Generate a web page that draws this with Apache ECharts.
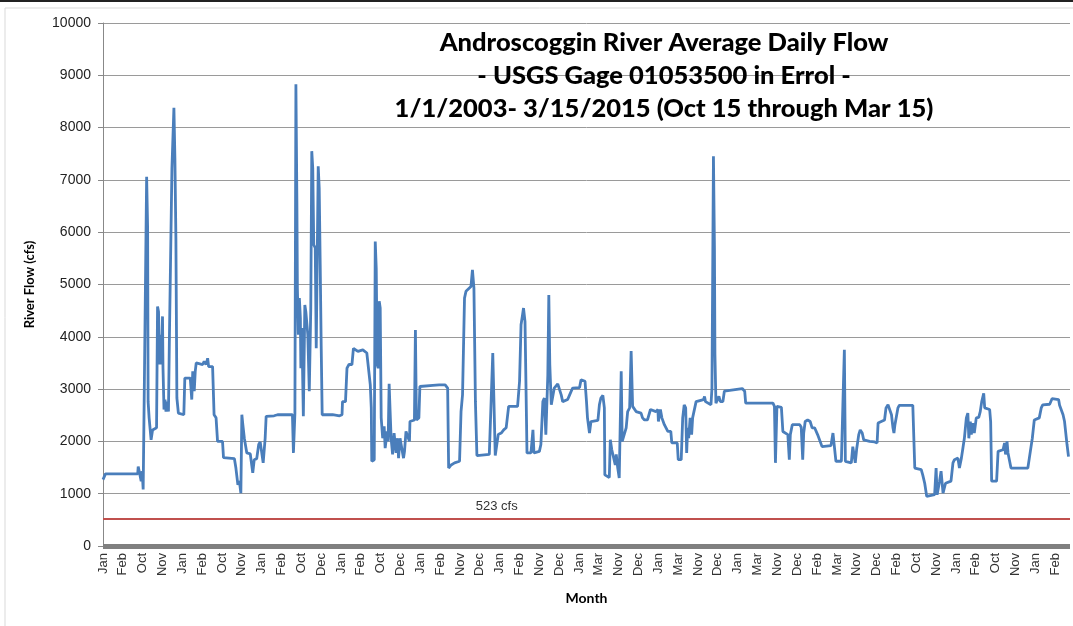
<!DOCTYPE html>
<html>
<head>
<meta charset="utf-8">
<title>Androscoggin River Average Daily Flow</title>
<script src="https://cdn.jsdelivr.net/npm/echarts@6.0.0/dist/echarts.min.js"></script>
<style>
  html, body { margin: 0; padding: 0; background: #fff; }
  #chart { width: 1073px; height: 626px; }
</style>
</head>
<body>
<div id="chart"></div>
<script>
// month tick labels, one every 40 days along the x axis
const monthLabels = ["Jan","Feb","Oct","Nov","Jan","Feb","Oct","Nov","Jan","Feb","Oct","Dec",
  "Jan","Feb","Oct","Dec","Jan","Feb","Nov","Dec","Jan","Feb","Nov","Dec","Jan","Mar","Nov","Dec",
  "Jan","Mar","Nov","Dec","Jan","Mar","Nov","Dec","Feb","Mar","Nov","Dec","Feb","Oct","Nov","Jan",
  "Feb","Oct","Nov","Jan","Feb"];
const labelStep = 40;

// day index (winter days only) and daily flow in cfs
const days = [0,4,5,70,71,75,77,79,81,83,88,90,91,93,97,100,108,110,112,114,116,118,120,121,123,125,127,129,132,134,
  139,143,145,147,149,152,163,165,176,179,181,184,186,188,201,204,208,211,213,221,224,228,231,241,243,265,268,272,275,278,
  280,282,285,288,290,297,302,305,310,314,317,321,323,327,329,345,352,382,384,387,389,391,392,394,396,398,399,401,404,407,
  409,413,416,419,421,423,425,428,430,432,434,436,438,440,442,463,477,482,483,489,492,496,502,505,514,524,532,536,539,541,
  542,547,549,551,553,555,557,559,561,564,567,569,573,575,577,579,581,584,587,589,591,594,596,599,603,606,608,611,614,618,
  619,628,630,632,637,639,665,678,690,695,697,702,709,719,722,725,729,732,742,745,748,751,754,779,783,786,789,791,795,797,
  803,808,813,818,836,840,843,846,848,851,853,855,863,867,869,880,883,887,890,893,897,899,901,904,907,910,917,920,924,927,
  937,941,947,961,964,972,975,977,981,984,998,1001,1004,1008,1011,1012,1021,1023,1026,1030,1033,1035,1038,1041,1045,1047,1051,1055,1058,1062,
  1065,1068,1072,1075,1085,1088,1092,1098,1104,1115,1119,1120,1124,1127,1132,1139,1145,1147,1158,1160,1166,1169,1172,1175,1177,1179,1181,1184,1187,1189,
  1193,1196,1211,1213,1215,1226,1228,1231,1233,1234,1236,1240,1242,1245,1250,1253,1289,1294,1296,1351,1354,1356,1359,1368,1371,1381,1384,1386,1390,1405,
  1408,1411,1413,1416,1421,1426,1430,1435,1441,1445,1450,1468,1472,1475,1478,1489,1492,1495,1497,1509,1512,1515,1517,1520,1524,1527,1531,1534,1546,1556,
  1561,1563,1576,1579,1583,1587,1590,1593,1595,1597,1600,1603,1606,1633,1637,1650,1653,1657,1659,1661,1677,1680,1682,1685,1687,1690,1694,1699,1710,1714,
  1717,1724,1727,1731,1734,1737,1741,1744,1746,1749,1751,1754,1757,1761,1766,1769,1772,1776,1778,1788,1790,1792,1802,1805,1815,1818,1820,1823,1825,1828,
  1831,1865,1868,1874,1878,1888,1892,1895,1909,1914,1927,1929,1932,1936,1939,1942,1944,1947];
const flow = [1270,1270,1380,1380,1520,1490,1240,1430,1080,2760,7060,6080,2760,2450,2030,2220,2260,4580,4480,3470,4040,3470,4390,3400,2610,2800,2570,2760,2570,4040,
  7220,8380,7410,5890,2830,2540,2510,3210,3210,2800,3340,2960,3340,3500,3470,3530,3470,3590,3430,3430,2510,2450,2000,2000,1690,1670,1490,1170,1240,1010,
  2510,2320,2060,2030,1780,1760,1400,1650,1670,1940,1990,1970,1590,2060,2480,2490,2510,2510,1780,2540,8830,6590,4930,4040,4740,4360,3400,4170,2480,4610,
  4480,4040,2960,4550,7550,7220,5760,5700,3780,3780,7260,6840,5380,3820,2510,2510,2490,2510,2760,2760,3400,3470,3470,3780,3720,3750,3690,3660,3080,2640,
  1620,1650,5820,5310,3470,3400,4680,4550,2450,2060,2290,1870,2190,2000,3100,2570,2060,1750,2160,2160,1780,2060,1680,2060,2060,1680,1810,2190,2220,2000,
  2380,2410,4130,2410,2450,3050,3070,3080,3080,3020,1490,1550,1590,1620,2570,2890,4740,4870,4960,5280,4930,2760,1730,1750,1730,3690,3660,1730,1730,2130,
  2160,2220,2260,2670,2670,3150,4230,4420,4550,4290,4290,1780,1780,2220,1780,1810,1940,2760,2830,2130,3270,4800,3470,2700,2670,3020,3100,3080,2890,2760,
  2800,2890,3020,3030,3180,3150,2760,2450,2160,2380,2400,2700,2830,2880,2640,1360,1310,2030,1840,1810,1550,1750,1490,1300,3340,2000,2000,2260,2570,2640,
  3730,2670,2640,2570,2540,2450,2410,2410,2610,2570,2610,2380,2610,2450,2320,2190,2190,1970,1970,1650,1650,2450,2700,2640,1780,2260,2060,2450,2130,2450,
  2450,2760,2800,2860,2760,2700,3020,7450,5700,3660,2730,2730,2860,2760,2760,2960,3010,2960,2730,2730,2670,1590,2670,2650,2190,2130,1650,2130,2320,2320,
  2270,1650,2160,2380,2410,2380,2260,2260,2130,2100,1900,1920,2160,2160,1620,1620,2700,3750,1620,1590,1900,1710,1590,1870,2130,2220,2160,2030,2000,1990,
  1970,2350,2410,2640,2700,2700,2510,2260,2160,2320,2350,2640,2690,2690,1490,1460,1360,1200,1170,950,980,1490,980,980,1240,1430,1010,1200,1240,1590,
  1650,1680,1490,1680,1870,2060,2450,2540,2060,2380,2130,2350,2160,2450,2460,2570,2760,2920,2640,2610,2380,1240,1240,1810,1840,1970,1750,2000,1780,1750,
  1490,1490,1680,2060,2410,2450,2640,2700,2710,2820,2800,2690,2670,2510,2380,2350,1940,1710];

const minFlow = 523;          // required minimum flow (red line)
const minFlowLabelDay = 794;  // where the "523 cfs" note sits

const seriesData = days.map((d, i) => [d, flow[i]]);

const chart = echarts.init(document.getElementById("chart"));
chart.setOption({
  animation: false,
  backgroundColor: "#fff",
  graphic: [
    { type: "rect", shape: { x: 0, y: 0, width: 1073, height: 2 }, style: { fill: "#222" } },
    { type: "rect", shape: { x: 5, y: 8, width: 1100, height: 700 }, style: { fill: "none", stroke: "#d9d9d9", lineWidth: 1 } }
  ],
  title: {
    text: "Androscoggin River Average Daily Flow\n- USGS Gage 01053500 in Errol -\n1/1/2003- 3/15/2015 (Oct 15 through Mar 15)",
    left: 659,
    top: 21,
    textAlign: "center",
    textStyle: {
      fontFamily: "Lato",
      fontWeight: 900,
      fontSize: 25.5,
      lineHeight: 33,
      color: "#000"
    }
  },
  grid: {
    left: 103,
    right: 3,
    top: 23,
    bottom: 80
  },
  xAxis: {
    type: "value",
    min: 0,
    max: 1950,
    interval: labelStep,
    name: "Month",
    nameLocation: "middle",
    nameGap: 45,
    nameTextStyle: { fontFamily: "Lato", fontWeight: "bold", fontSize: 14, color: "#000" },
    axisLine: { lineStyle: { color: "#808080", width: 5, cap: "butt" } },
    axisTick: { show: false },
    splitLine: { show: false },
    axisLabel: {
      rotate: 90,
      margin: 7,
      fontFamily: "Liberation Sans",
      fontSize: 13,
      color: "#333",
      formatter: function(v) {
        return v % labelStep === 0 ? (monthLabels[v / labelStep] || "") : "";
      }
    }
  },
  yAxis: {
    type: "value",
    min: 0,
    max: 10000,
    interval: 1000,
    name: "River Flow (cfs)",
    nameLocation: "middle",
    nameGap: 67,
    nameTextStyle: { fontFamily: "Lato", fontWeight: "bold", fontSize: 13, color: "#000" },
    axisLine: { show: true, lineStyle: { color: "#888" } },
    axisTick: { show: true, length: 5, lineStyle: { color: "#888" } },
    splitLine: { lineStyle: { color: "#9a9a9a", width: 1 } },
    axisLabel: {
      margin: 12,
      fontFamily: "Liberation Sans",
      fontSize: 14,
      color: "#222",
      formatter: function(v) { return String(v); }
    }
  },
  series: [
    {
      name: "Flow",
      type: "line",
      data: seriesData,
      symbol: "none",
      lineStyle: { color: "#4a7ebb", width: 2.8 },
      itemStyle: { color: "#4a7ebb" },
      markLine: {
        silent: true,
        symbol: "none",
        label: { show: false },
        lineStyle: { color: "#c0504d", width: 2, type: "solid" },
        data: [{ yAxis: minFlow }]
      },
      markPoint: {
        silent: true,
        symbol: "circle",
        symbolSize: 0,
        label: {
          show: true,
          position: "top",
          distance: 6,
          formatter: minFlow + " cfs",
          fontFamily: "Liberation Sans",
          fontSize: 13,
          color: "#333"
        },
        data: [{ coord: [minFlowLabelDay, minFlow] }]
      }
    }
  ]
});
</script>
</body>
</html>
